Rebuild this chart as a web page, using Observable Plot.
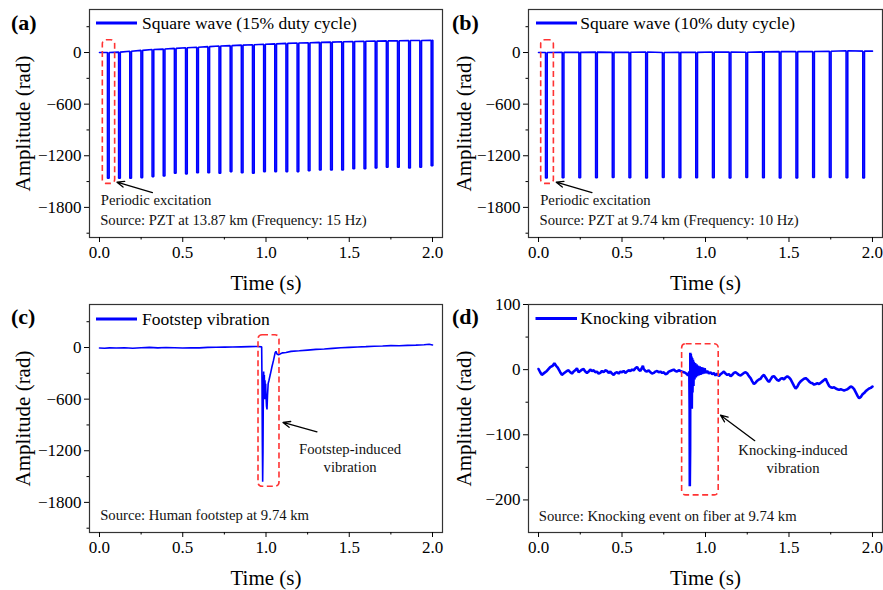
<!DOCTYPE html>
<html>
<head>
<meta charset="utf-8">
<script src="https://cdn.jsdelivr.net/npm/d3@7"></script>
<script src="https://cdn.jsdelivr.net/npm/@observablehq/plot@0.6"></script>
<style>
  body { margin: 0; background: white; }
  #chart { position: relative; width: 883px; height: 590px; background: white; overflow: hidden; }
  #chart > svg { position: absolute; }
</style>
</head>
<body>
<div id="chart"></div>
<script>
// ---------------- DATA ----------------
const panelLabels = ["(a)", "(b)", "(c)", "(d)"];
const legendNames = ["Square wave (15% duty cycle)", "Square wave (10% duty cycle)", "Footstep vibration", "Knocking vibration"];

const xMajorTicks = [0, 0.5, 1, 1.5, 2];
const xMinorTicks = [0.25, 0.75, 1.25, 1.75];
const yMajorRad = [-1800, -1200, -600, 0];
const yMinorRad = [-2100, -1500, -900, -300, 300];
const yMajorKnock = [-200, -100, 0, 100];
const yMinorKnock = [-150, -50, 50];

// (a) square wave, 15 Hz
const pulseTimesA = [0.048, 0.115, 0.182, 0.249, 0.316, 0.383, 0.450, 0.517, 0.584, 0.651, 0.718, 0.785, 0.852, 0.919, 0.986, 1.053, 1.120, 1.187, 1.254, 1.321, 1.388, 1.455, 1.522, 1.589, 1.656, 1.723, 1.790, 1.857, 1.924, 1.992];
const baseA = [0, 5, 15, 25, 35, 40, 48, 55, 62, 68, 75, 80, 86, 91, 96, 101, 106, 110, 114, 118, 121, 125, 128, 131, 133, 135, 137, 139, 140, 142];
const bottomA = [-1461, -1461, -1461, -1454, -1442, -1434, -1403, -1410, -1396, -1396, -1403, -1384, -1396, -1403, -1384, -1384, -1384, -1384, -1373, -1365, -1365, -1365, -1350, -1350, -1342, -1334, -1334, -1342, -1334, -1315];
// (b) square wave, 10 Hz
const pulseTimesB = [0.042, 0.142, 0.242, 0.342, 0.442, 0.542, 0.642, 0.742, 0.842, 0.942, 1.042, 1.142, 1.242, 1.342, 1.442, 1.542, 1.642, 1.742, 1.842, 1.942];
const baseB = [0, 3, 2, 5, 2, 4, 6, 1, 3, 2, 6, 5, 4, 8, 10, 10, 12, 15, 20, 16];
const bottomB = [-1458, -1455, -1455, -1455, -1452, -1455, -1458, -1452, -1455, -1455, -1455, -1458, -1452, -1455, -1458, -1458, -1452, -1452, -1455, -1458];
const pulseWidth = 0.010;

// (c) footstep trace [time, amplitude]
const footstep = [
  [0, -5], [0.03, -8], [0.06, -4], [0.1, -6], [0.15, -3], [0.2, -8], [0.25, -2], [0.3, 2], [0.35, -4], [0.4, 0],
  [0.45, -3], [0.5, -6], [0.55, -2], [0.6, -4], [0.65, 2], [0.7, 3], [0.75, 5], [0.8, 6], [0.85, 8], [0.9, 10],
  [0.95, 12], [0.974, 8], [0.976, -400], [0.978, -1100], [0.980, -1560], [0.982, -1200], [0.984, -500], [0.986, -280],
  [0.988, -560], [0.990, -320], [0.992, -600], [0.994, -380], [0.996, -520], [0.998, -420], [1.000, -560], [1.003, -680],
  [1.006, -720], [1.009, -560], [1.013, -420], [1.018, -380], [1.025, -320], [1.035, -230], [1.045, -150], [1.055, -60],
  [1.060, -45], [1.066, -75], [1.075, -85], [1.09, -70], [1.10, -62], [1.12, -58], [1.15, -45], [1.2, -38], [1.25, -30],
  [1.3, -22], [1.35, -18], [1.4, -10], [1.45, -2], [1.5, 2], [1.55, 6], [1.6, 10], [1.65, 15], [1.7, 18], [1.75, 22],
  [1.8, 20], [1.85, 25], [1.9, 28], [1.95, 32], [1.98, 38], [2.0, 30]
];

// (d) knocking trace [time, amplitude]
const knocking = [
  [0, 1], [0.01, -4], [0.02, -8], [0.035, -5], [0.05, -2], [0.07, 4], [0.085, 6], [0.095, 10], [0.105, 6], [0.115, 3],
  [0.13, -4], [0.14, -8], [0.15, -6], [0.16, -4], [0.17, -2], [0.18, -1], [0.19, -4], [0.2, -6], [0.21, -3], [0.22, -1],
  [0.23, 2], [0.24, -4], [0.25, -2], [0.26, 0], [0.27, 1], [0.28, -3], [0.29, -5], [0.3, -3], [0.31, 0], [0.32, -2],
  [0.33, -1], [0.34, -4], [0.35, -3], [0.36, -6], [0.37, -5], [0.38, -2], [0.39, -4], [0.4, -1], [0.41, -2], [0.42, -5],
  [0.43, -3], [0.44, -6], [0.45, -8], [0.46, -5], [0.47, -4], [0.48, -6], [0.49, -3], [0.5, -4], [0.51, -2], [0.52, -5],
  [0.53, -3], [0.54, -1], [0.55, -2], [0.56, 0], [0.57, -1], [0.58, 2], [0.59, 4], [0.6, 0], [0.61, -2], [0.62, 3],
  [0.625, 6], [0.63, 1], [0.64, -2], [0.65, -3], [0.66, -1], [0.67, -4], [0.68, -6], [0.69, -5], [0.7, -3], [0.71, -2],
  [0.72, -4], [0.73, -3], [0.74, -5], [0.75, -4], [0.76, -7], [0.77, -6], [0.78, -3], [0.79, -2], [0.8, -1], [0.81, 0],
  [0.82, -2], [0.83, -3], [0.84, -1], [0.85, -2], [0.86, -3], [0.87, -4], [0.88, -5], [0.89, -7], [0.895, -9], [0.9, -6],
  [0.903, -3], [0.905, -60], [0.906, -179], [0.908, -120], [0.909, 26], [0.911, -30], [0.912, 24], [0.914, -15], [0.916, 20],
  [0.918, -60], [0.92, 18], [0.922, -35], [0.925, 15], [0.928, -25], [0.93, 12], [0.934, -15], [0.938, 10], [0.942, -12],
  [0.946, 8], [0.95, -10], [0.955, 6], [0.96, -9], [0.965, 5], [0.97, -8], [0.975, 4], [0.98, -7], [0.985, 3], [0.99, -6],
  [0.995, 2], [1.0, -5], [1.01, -2], [1.02, -6], [1.03, -4], [1.04, -7], [1.05, -5], [1.06, -9], [1.07, -6], [1.08, -10],
  [1.09, -7], [1.1, -5], [1.11, -3], [1.12, -6], [1.13, -8], [1.14, -7], [1.15, -10], [1.16, -8], [1.17, -5], [1.18, -4],
  [1.19, -6], [1.2, -8], [1.21, -9], [1.22, -7], [1.23, -5], [1.24, -4], [1.25, -6], [1.26, -10], [1.27, -13], [1.28, -18],
  [1.29, -22], [1.3, -20], [1.31, -17], [1.32, -15], [1.33, -14], [1.34, -10], [1.35, -8], [1.36, -12], [1.37, -16], [1.38, -19],
  [1.39, -15], [1.4, -11], [1.41, -10], [1.42, -13], [1.43, -16], [1.44, -17], [1.45, -14], [1.46, -13], [1.47, -15], [1.48, -12],
  [1.49, -10], [1.5, -12], [1.51, -15], [1.52, -20], [1.53, -25], [1.54, -29], [1.55, -26], [1.56, -21], [1.57, -18], [1.58, -16],
  [1.59, -14], [1.6, -13], [1.61, -15], [1.62, -18], [1.63, -20], [1.64, -21], [1.65, -23], [1.66, -22], [1.67, -21], [1.68, -22],
  [1.69, -20], [1.7, -18], [1.71, -16], [1.72, -14], [1.73, -20], [1.74, -25], [1.75, -27], [1.76, -28], [1.77, -27], [1.78, -29],
  [1.79, -30], [1.8, -31], [1.81, -30], [1.82, -31], [1.83, -32], [1.84, -31], [1.85, -30], [1.86, -28], [1.87, -26], [1.88, -27],
  [1.89, -30], [1.9, -35], [1.91, -40], [1.92, -44], [1.93, -42], [1.94, -38], [1.95, -36], [1.96, -33], [1.97, -31], [1.98, -29],
  [1.99, -28], [2.0, -26]
];

// annotations (data units)
const boxes = [
  [{x1: 0.020, x2: 0.094, y1: -1527, y2: 143}],
  [{x1: 0.016, x2: 0.092, y1: -1527, y2: 143}],
  [{x1: 0.955, x2: 1.081, y1: -1619, y2: 143}],
  [{x1: 0.860, x2: 1.079, y1: -193, y2: 39}]
];
const arrows = [
  [{x1: 0.318, y1: -1627, x2: 0.105, y2: -1507}],
  [{x1: 0.320, y1: -1627, x2: 0.106, y2: -1507}],
  [{x1: 1.306, y1: -980, x2: 1.102, y2: -871}],
  [{x1: 1.295, y1: -109, x2: 1.090, y2: -70}]
];
const notesLeft = [
  [{x: 0.008, y: -1714, text: "Periodic excitation"},
   {x: 0.004, y: -1953, text: "Source: PZT at 13.87 km (Frequency: 15 Hz)"}],
  [{x: 0.010, y: -1714, text: "Periodic excitation"},
   {x: 0.006, y: -1953, text: "Source: PZT at 9.74 km (Frequency: 10 Hz)"}],
  [{x: 0.004, y: -1950, text: "Source: Human footstep at 9.74 km"}],
  [{x: 0.002, y: -225, text: "Source: Knocking event on fiber at 9.74 km"}]
];
const notesCenter = [
  [],
  [],
  [{x: 1.505, y: -1274, text: "Footstep-induced\nvibration"}],
  [{x: 1.524, y: -136, text: "Knocking-induced\nvibration"}]
];

// ---------------- BUILD ----------------
function squareWave(times, bases, bottoms, endValue) {
  const pts = [{t: 0, v: bases[0]}];
  times.forEach((t, i) => {
    pts.push({t, v: bases[i]}, {t, v: bottoms[i]}, {t: t + pulseWidth, v: bottoms[i]}, {t: t + pulseWidth, v: bases[i]});
  });
  pts.push({t: 2.0, v: endValue});
  return pts;
}
const traces = [
  squareWave(pulseTimesA, baseA, bottomA, baseA[baseA.length - 1]),
  squareWave(pulseTimesB, baseB, bottomB, baseB[baseB.length - 1]),
  footstep.map(([t, v]) => ({t, v})),
  knocking.map(([t, v]) => ({t, v}))
];

const FONT = "Liberation Serif";
const BLUE = "#0000ff";
const RED = "#ff3333";

const layout = [
  {left: 0, top: 0, width: 444, mL: 89, mR: 2, yDomain: [-2150, 500], yMaj: yMajorRad, yMin: yMinorRad, lo: 74, sw: 1.6},
  {left: 441, top: 0, width: 442, mL: 87, mR: 1, yDomain: [-2150, 500], yMaj: yMajorRad, yMin: yMinorRad, lo: 72, sw: 1.6},
  {left: 0, top: 295, width: 444, mL: 89, mR: 2, yDomain: [-2150, 500], yMaj: yMajorRad, yMin: yMinorRad, lo: 74, sw: 1.6},
  {left: 441, top: 295, width: 442, mL: 87, mR: 1, yDomain: [-250, 100], yMaj: yMajorKnock, yMin: yMinorKnock, lo: 72, sw: 2.6}
];

const chart = document.getElementById("chart");

layout.forEach((L, i) => {
  const svg = Plot.plot({
    width: L.width,
    height: 295,
    marginLeft: L.mL,
    marginRight: L.mR,
    marginTop: 9,
    marginBottom: 58,
    x: {domain: [-0.06, 2.06]},
    y: {domain: L.yDomain},
    style: {fontFamily: FONT, fontSize: "17px", background: "transparent", color: "black", overflow: "visible"},
    marks: [
      Plot.line(traces[i], {x: "t", y: "v", stroke: BLUE, strokeWidth: L.sw, strokeLinejoin: "miter"}),
      Plot.rect(boxes[i], {x1: "x1", x2: "x2", y1: "y1", y2: "y2", fill: "none", stroke: RED, strokeWidth: 1.6, strokeDasharray: "6,3.5", rx: 4}),
      Plot.arrow(arrows[i], {x1: "x1", y1: "y1", x2: "x2", y2: "y2", stroke: "black", strokeWidth: 1.3, headLength: 9, headAngle: 45}),
      Plot.text(notesLeft[i], {x: "x", y: "y", text: "text", textAnchor: "start", fontSize: 14.7, fill: "#111"}),
      Plot.text(notesCenter[i], {x: "x", y: "y", text: "text", textAnchor: "middle", fontSize: 14.7, fill: "#111", lineHeight: 1.24}),
      Plot.frame({stroke: "#333", strokeWidth: 1.2}),
      Plot.axisX({ticks: xMajorTicks, tickSize: 5, tickPadding: 3, tickFormat: d3.format(".1f"), fontSize: 17, label: null}),
      Plot.axisX({ticks: xMinorTicks, tickSize: 2.5, tickFormat: () => "", label: null}),
      Plot.axisX({ticks: [], tickSize: 0, label: "Time (s)", labelAnchor: "center", labelOffset: 52, labelArrow: "none", fontSize: 21}),
      Plot.axisY({ticks: L.yMaj, tickSize: 5, tickPadding: 3, tickFormat: d3.format("d"), fontSize: 17, label: null}),
      Plot.axisY({ticks: L.yMin, tickSize: 2.5, tickFormat: () => "", label: null}),
      Plot.axisY({ticks: [], tickSize: 0, label: "Amplitude (rad)", labelAnchor: "center", labelOffset: L.lo, labelArrow: "none", fontSize: 21})
    ]
  });
  svg.style.left = L.left + "px";
  svg.style.top = L.top + "px";
  chart.appendChild(svg);
});

// overlay: panel labels and legends
const overlayItems = [
  {label: [11, 30], sw: [96, 137, 23], text: [142, 29.3]},
  {label: [452, 30], sw: [536, 577, 23], text: [580.3, 29.3]},
  {label: [11, 324.3], sw: [96, 137, 319], text: [142, 324.6]},
  {label: [452, 324.3], sw: [535.5, 577, 318.5], text: [580.3, 324]}
];
const ns = "http://www.w3.org/2000/svg";
const ov = document.createElementNS(ns, "svg");
ov.setAttribute("width", 883);
ov.setAttribute("height", 590);
ov.style.left = "0px"; ov.style.top = "0px"; ov.style.pointerEvents = "none";
overlayItems.forEach((o, i) => {
  const lab = document.createElementNS(ns, "text");
  lab.setAttribute("x", o.label[0]); lab.setAttribute("y", o.label[1]);
  lab.setAttribute("font-family", FONT); lab.setAttribute("font-size", 22); lab.setAttribute("font-weight", "bold");
  lab.textContent = panelLabels[i];
  ov.appendChild(lab);
  const ln = document.createElementNS(ns, "line");
  ln.setAttribute("x1", o.sw[0]); ln.setAttribute("x2", o.sw[1]);
  ln.setAttribute("y1", o.sw[2]); ln.setAttribute("y2", o.sw[2]);
  ln.setAttribute("stroke", BLUE); ln.setAttribute("stroke-width", 3);
  ov.appendChild(ln);
  const tx = document.createElementNS(ns, "text");
  tx.setAttribute("x", o.text[0]); tx.setAttribute("y", o.text[1]);
  tx.setAttribute("font-family", FONT); tx.setAttribute("font-size", 17.5);
  tx.textContent = legendNames[i];
  ov.appendChild(tx);
});
chart.appendChild(ov);
</script>
</body>
</html>
